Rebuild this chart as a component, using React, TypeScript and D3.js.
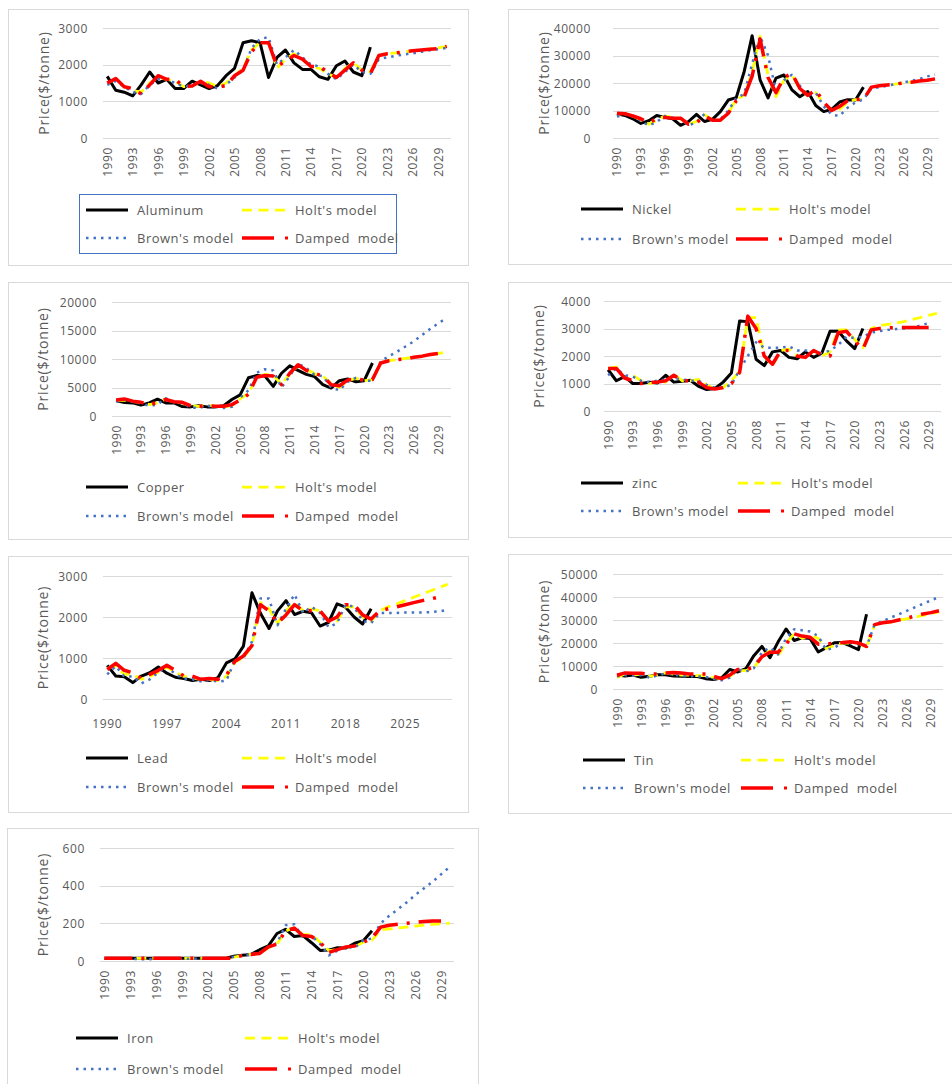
import * as d3 from "d3";

const YEARS = [
  1990, 1991, 1992, 1993, 1994, 1995, 1996, 1997, 1998, 1999,
  2000, 2001, 2002, 2003, 2004, 2005, 2006, 2007, 2008, 2009,
  2010, 2011, 2012, 2013, 2014, 2015, 2016, 2017, 2018, 2019,
  2020, 2021, 2022, 2023, 2024, 2025, 2026, 2027, 2028, 2029, 2030,
];
const X_TICKS_3 = [1990, 1993, 1996, 1999, 2002, 2005, 2008, 2011, 2014, 2017, 2020, 2023, 2026, 2029];
const X_TICKS_7 = [1990, 1997, 2004, 2011, 2018, 2025];

type V = number | null;

// Aluminum
const AL_ACTUAL = [1680, 1300, 1250, 1150, 1450, 1800, 1500, 1600, 1350, 1350, 1550, 1450, 1350, 1430, 1700, 1900, 2600, 2650, 2600, 1650, 2200, 2400, 2050, 1870, 1870, 1670, 1600, 1970, 2100, 1800, 1700, 2480];
const AL_HOLT = [1500, 1600, 1400, 1300, 1250, 1500, 1650, 1600, 1550, 1400, 1420, 1550, 1500, 1400, 1500, 1700, 1900, 2400, 2600, 2600, 1900, 2150, 2300, 2150, 1950, 1900, 1750, 1650, 1900, 2050, 1850, 1800, 2250, 2300, 2320, 2350, 2380, 2400, 2430, 2460, 2500];
const AL_BROWN = [1450, 1550, 1400, 1250, 1200, 1450, 1600, 1600, 1500, 1400, 1450, 1500, 1450, 1350, 1450, 1650, 1850, 2450, 2700, 2750, 2000, 2200, 2400, 2200, 2000, 1950, 1750, 1600, 1800, 2000, 1800, 1750, 2150, 2200, 2240, 2280, 2310, 2350, 2390, 2420, 2460];
const AL_DAMPED = [1500, 1620, 1400, 1350, 1200, 1450, 1700, 1600, 1600, 1400, 1420, 1550, 1400, 1400, 1420, 1700, 1850, 2350, 2600, 2600, 1950, 2100, 2250, 2150, 1950, 1950, 1800, 1650, 1850, 2050, 1850, 1750, 2250, 2300, 2320, 2350, 2380, 2400, 2420, 2440, 2500];
const AL_Y_TICKS = [0, 1000, 2000, 3000];

// Nickel
const NI_ACTUAL = [8800, 8200, 7000, 5300, 6300, 8200, 7500, 7000, 4600, 6000, 8600, 6000, 6800, 9600, 13800, 14700, 24200, 37200, 21100, 14600, 21800, 22900, 17500, 15000, 16900, 11800, 9600, 10400, 13100, 13900, 13800, 18500];
const NI_HOLT = [8500, 9000, 8000, 6500, 5000, 6500, 8000, 7500, 7000, 5000, 6000, 8500, 6500, 6500, 9000, 14000, 15500, 24000, 37000, 23000, 15000, 21000, 23000, 18000, 15500, 16500, 12500, 10000, 10500, 13000, 14000, 14000, 18500, 19000, 19300, 19600, 20000, 20300, 20700, 21000, 21300];
const NI_BROWN = [7800, 8500, 7800, 6200, 4500, 5800, 8000, 7400, 7000, 4500, 5800, 8700, 6200, 6800, 10000, 14500, 16000, 27000, 37000, 30000, 17000, 21000, 23000, 19000, 15500, 16500, 11500, 8500, 8000, 11000, 13000, 14000, 18000, 18500, 19000, 19600, 20200, 20800, 21400, 22400, 23000];
const NI_DAMPED = [9000, 8800, 8000, 7000, 5500, 7000, 7500, 7200, 7200, 5000, 5500, 8000, 6500, 6500, 9000, 13500, 15000, 22500, 36000, 22000, 16500, 22000, 23500, 18000, 15500, 17500, 13000, 10000, 11500, 13500, 14000, 14000, 18500, 19000, 19300, 19600, 20000, 20300, 20700, 21000, 21500];
const NI_Y_TICKS = [0, 10000, 20000, 30000, 40000];

// Copper
const CU_ACTUAL = [2700, 2350, 2300, 1900, 2300, 2950, 2300, 2300, 1650, 1600, 1800, 1600, 1600, 1800, 2900, 3700, 6700, 7100, 7000, 5200, 7500, 8800, 8000, 7300, 6900, 5500, 4900, 6200, 6500, 6000, 6200, 9300];
const CU_HOLT: V[] = [2700, 2800, 2500, 2400, 2000, 2300, 3000, 2400, 2300, 1800, 1700, 1900, 1700, 1600, 1800, 3000, 4000, 6800, 7300, 7200, 5500, 7400, 8800, 8200, 7400, 7000, 5700, 5000, 6200, 6600, 6200, 6400, 9400, 9700, 9900, 10100, 10300, 10500, 10700, 11000, 11200];
const CU_BROWN: V[] = [2500, 2900, 2500, 2200, 1800, 2000, 3100, 2400, 2300, 1500, 1400, 1800, 1600, 1400, 1600, 3200, 4500, 7600, 8200, 8000, 5000, 7000, 9200, 8400, 7200, 7000, 5000, 4500, 6000, 6700, 6200, 6200, 9600, 10500, 11300, 12200, 13100, 14200, 15300, 16300, 17200];
const CU_DAMPED: V[] = [2800, 3000, 2600, 2400, 2000, 2400, 2900, 2500, 2400, 1800, 1700, 1800, 1700, 1700, 2000, 2800, 3800, 6800, 7100, 7000, 5500, 7500, 9000, 8000, 7500, 7000, 5500, 5300, 6300, 6500, 6300, 6400, 9300, 9700, 9900, 10000, 10300, 10500, 10800, 11000, 11200];
const CU_Y_TICKS = [0, 5000, 10000, 15000, 20000];

// Zinc
const ZN_ACTUAL = [1500, 1100, 1250, 1000, 1000, 1050, 1020, 1300, 1050, 1080, 1120, 900, 780, 820, 1050, 1380, 3270, 3250, 1880, 1650, 2150, 2200, 1950, 1900, 2150, 1950, 2100, 2900, 2900, 2550, 2270, 3000];
const ZN_HOLT: V[] = [1550, 1600, 1200, 1300, 1100, 1000, 1050, 1050, 1350, 1100, 1100, 1150, 950, 800, 850, 1100, 1450, 3400, 3400, 2000, 1650, 2200, 2250, 2000, 1950, 2200, 2000, 2150, 2950, 2950, 2600, 2300, 3000, 3100, 3150, 3200, 3250, 3330, 3400, 3480, 3550];
const ZN_BROWN: V[] = [1300, 1550, 1300, 1250, 1100, 1050, 1100, 1150, 1200, 1150, 1100, 1100, 950, 850, 850, 950, 1500, 2000, 2500, 2300, 2300, 2300, 2350, 2200, 2200, 2150, 2100, 2200, 2400, 2700, 2650, 2700, 2850, 2900, 2950, 2980, 3000, 3050, 3100, 3200, null];
const ZN_DAMPED: V[] = [1550, 1550, 1200, 1100, 1000, 1050, 1050, 1100, 1300, 1100, 1100, 1050, 850, 800, 850, 1000, 1400, 3450, 3000, 2000, 1700, 2200, 2200, 2000, 1950, 2200, 2050, 2000, 2850, 2900, 2550, 2250, 2950, 3000, 3020, 3030, 3040, 3040, 3040, 3040, null];
const ZN_Y_TICKS = [0, 1000, 2000, 3000, 4000];

// Lead
const PB_ACTUAL = [820, 560, 540, 400, 560, 640, 780, 630, 530, 500, 450, 480, 450, 520, 880, 980, 1290, 2590, 2090, 1720, 2150, 2400, 2060, 2140, 2100, 1780, 1870, 2320, 2240, 2000, 1830, 2200];
const PB_HOLT: V[] = [750, 800, 600, 600, 480, 550, 650, 780, 650, 550, 520, 470, 480, 450, 550, 900, 1000, 1300, 2350, 2200, 1850, 2150, 2350, 2150, 2200, 2150, 1900, 1900, 2250, 2250, 2000, 1900, 2150, 2250, 2320, 2400, 2480, 2560, 2640, 2720, 2800];
const PB_BROWN: V[] = [600, 800, 550, 550, 380, 480, 650, 800, 600, 500, 480, 430, 470, 420, 450, 950, 1000, 1400, 2450, 2450, 1800, 2200, 2550, 2100, 2250, 2100, 1750, 1850, 2300, 2250, 1900, 1850, 2100, 2100, 2100, 2110, 2110, 2110, 2120, 2140, 2170];
const PB_DAMPED: V[] = [720, 870, 700, 640, 500, 600, 700, 820, 700, 560, 560, 480, 500, 480, 580, 920, 1050, 1300, 2300, 2150, 1850, 2050, 2300, 2150, 2150, 2150, 1900, 2000, 2300, 2300, 2050, 1950, 2150, 2200, 2250, 2300, 2350, 2400, 2440, 2490, null];
const PB_Y_TICKS = [0, 1000, 2000, 3000];

// Tin
const SN_ACTUAL = [6100, 5600, 6100, 5100, 5500, 6200, 6200, 5600, 5500, 5400, 5400, 4500, 4100, 4900, 8500, 7400, 8800, 14500, 18500, 13600, 20400, 26100, 21100, 22300, 21900, 16100, 18000, 20100, 20200, 18700, 17100, 32500];
const SN_HOLT: V[] = [5000, 6500, 6000, 6500, 5500, 6000, 7000, 6500, 6000, 6000, 5800, 5800, 5000, 4300, 5500, 8000, 8000, 9000, 14500, 16500, 14500, 20000, 24000, 22000, 23500, 22000, 17500, 19000, 20000, 20000, 20000, 18000, 28000, 28700, 29000, 30000, 30500, 31200, 32000, 32800, 33500];
const SN_BROWN: V[] = [5500, 6000, 5800, 6000, 5000, 5800, 6800, 6300, 5700, 5500, 5500, 5300, 4300, 3800, 5000, 8500, 7600, 9000, 16000, 18000, 15000, 22000, 26000, 25500, 25000, 23000, 17000, 18000, 20000, 20000, 19500, 18500, 28000, 29500, 31000, 32500, 34000, 35500, 37000, 38500, 40000];
const SN_DAMPED: V[] = [6000, 7000, 6800, 6800, 6500, 6500, 7000, 7200, 7000, 6500, 6500, 6500, 5500, 4500, 6000, 8500, 8500, 9500, 14000, 16000, 16000, 19500, 24000, 23000, 22500, 19500, 19500, 20000, 20200, 20500, 20000, 18500, 28000, 28800, 29200, 30000, 30800, 31700, 32600, 33200, 34000];
const SN_Y_TICKS = [0, 10000, 20000, 30000, 40000, 50000];

// Iron
const FE_ACTUAL = [14, 14, 14, 14, 14, 14, 14, 14, 14, 14, 14, 14, 14, 14, 14, 25, 30, 35, 60, 80, 146, 168, 130, 135, 97, 56, 58, 71, 69, 94, 108, 160];
const FE_HOLT: V[] = [14, 14, 14, 14, 14, 14, 14, 14, 14, 14, 14, 14, 14, 14, 14, 20, 30, 35, 40, 70, 90, 160, 175, 140, 140, 100, 55, 60, 75, 75, 100, 110, 165, 170, 175, 180, 185, 190, 195, 198, 200];
const FE_BROWN: V[] = [12, 12, 12, 12, 10, 8, 12, 12, 12, 12, 12, 12, 12, 12, 12, 22, 30, 35, 45, 75, 95, 190, 195, 125, 135, 90, 30, 55, 75, 70, 110, 120, 200, 240, 275, 310, 350, 385, 420, 460, 500];
const FE_DAMPED: V[] = [14, 14, 14, 14, 14, 14, 14, 14, 14, 14, 14, 14, 14, 14, 14, 16, 30, 35, 40, 75, 90, 160, 175, 135, 130, 100, 45, 60, 75, 80, 100, 120, 180, 190, 195, 200, 205, 210, 212, 213, null];
const FE_Y_TICKS = [0, 200, 400, 600];

const GRID = "#d9d9d9";
const TEXT = "#595959";
const FONT = "'Open Sans', 'DejaVu Sans', sans-serif";

const PANELS = [
  { name: "Aluminum", actual: AL_ACTUAL, holt: AL_HOLT, brown: AL_BROWN, damped: AL_DAMPED, yTicks: AL_Y_TICKS, xTicks: X_TICKS_3, rotate: true,
    box: [8, 9, 468, 265], plot: [103, 28, 451, 138], gap: 15, titleX: 43, lx: 86, lx2: 242, ly: [210, 238], legendBox: true },
  { name: "Nickel", actual: NI_ACTUAL, holt: NI_HOLT, brown: NI_BROWN, damped: NI_DAMPED, yTicks: NI_Y_TICKS, xTicks: X_TICKS_3, rotate: true,
    box: [508, 9, 964, 264], plot: [613, 28, 939, 138], gap: 22, titleX: 543, lx: 581, lx2: 736, ly: [209, 239] },
  { name: "Copper", actual: CU_ACTUAL, holt: CU_HOLT, brown: CU_BROWN, damped: CU_DAMPED, yTicks: CU_Y_TICKS, xTicks: X_TICKS_3, rotate: true,
    box: [8, 282, 468, 539], plot: [112, 302, 451, 416], gap: 15, titleX: 42, lx: 86, lx2: 242, ly: [487, 516] },
  { name: "zinc", actual: ZN_ACTUAL, holt: ZN_HOLT, brown: ZN_BROWN, damped: ZN_DAMPED, yTicks: ZN_Y_TICKS, xTicks: X_TICKS_3, rotate: true,
    box: [508, 282, 964, 537], plot: [604, 301, 941, 411], gap: 13, titleX: 538, lx: 581, lx2: 738, ly: [483, 511] },
  { name: "Lead", actual: PB_ACTUAL, holt: PB_HOLT, brown: PB_BROWN, damped: PB_DAMPED, yTicks: PB_Y_TICKS, xTicks: X_TICKS_7, rotate: false,
    box: [8, 556, 468, 812], plot: [103, 576, 452, 699], gap: 15, titleX: 42, lx: 86, lx2: 242, ly: [758, 787] },
  { name: "Tin", actual: SN_ACTUAL, holt: SN_HOLT, brown: SN_BROWN, damped: SN_DAMPED, yTicks: SN_Y_TICKS, xTicks: X_TICKS_3, rotate: true,
    box: [508, 554, 964, 813], plot: [613, 574, 943, 689], gap: 15, titleX: 543, lx: 583, lx2: 741, ly: [760, 788] },
  { name: "Iron", actual: FE_ACTUAL, holt: FE_HOLT, brown: FE_BROWN, damped: FE_DAMPED, yTicks: FE_Y_TICKS, xTicks: X_TICKS_3, rotate: true,
    box: [7, 828, 478, 1100], plot: [100, 848, 454, 961], gap: 15, titleX: 42, lx: 76, lx2: 245, ly: [1038, 1069] },
];

const STYLES = {
  actual: { stroke: "#000000", width: 3, dash: "none" },
  holt: { stroke: "#ffff00", width: 2.75, dash: "10,6" },
  brown: { stroke: "#4472c4", width: 2.5, dash: "2.5,5" },
  damped: { stroke: "#ff0000", width: 3.5, dash: "28,9,3,9" },
};

function Panel({ p }: { p: (typeof PANELS)[number] }) {
  const [x0, y0, x1, y1] = p.plot;
  const x = d3.scaleBand<number>().domain(YEARS).range([x0, x1]);
  const cx = (yr: number) => (x(yr) ?? 0) + x.bandwidth() / 2;
  const y = d3.scaleLinear().domain([0, p.yTicks[p.yTicks.length - 1]]).range([y1, y0]);
  const line = d3
    .line<V>()
    .defined((d) => d != null)
    .x((_, i) => cx(YEARS[i]))
    .y((d) => y(d as number));

  const series: [keyof typeof STYLES, V[]][] = [
    ["actual", p.actual],
    ["holt", p.holt],
    ["brown", p.brown],
    ["damped", p.damped],
  ];
  const [bx0, by0, bx1, by1] = p.box;
  const tickFont = { fontFamily: FONT, fontSize: 12, fill: TEXT, letterSpacing: 0.6 } as const;
  const legFont = { fontFamily: FONT, fontSize: 13, fill: TEXT, letterSpacing: 0.5 } as const;
  const [r1, r2] = p.ly;

  return (
    <g>
      <rect x={bx0 + 0.5} y={by0 + 0.5} width={bx1 - bx0} height={by1 - by0} fill="#fff" stroke={GRID} />
      {p.yTicks.map((t) => (
        <g key={t}>
          <line x1={x0} x2={x1} y1={Math.round(y(t)) + 0.5} y2={Math.round(y(t)) + 0.5} stroke={GRID} strokeWidth={1} />
          <text x={x0 - p.gap} y={y(t)} textAnchor="end" dominantBaseline="central" {...tickFont}>
            {t}
          </text>
        </g>
      ))}
      {p.xTicks.map((t) =>
        p.rotate ? (
          <text key={t} transform={`translate(${cx(t)},${y1 + 9}) rotate(-90)`} textAnchor="end" dominantBaseline="central" {...tickFont}>
            {t}
          </text>
        ) : (
          <text key={t} x={cx(t)} y={y1 + 24} textAnchor="middle" dominantBaseline="central" {...tickFont}>
            {t}
          </text>
        )
      )}
      <text transform={`translate(${p.titleX},${(y0 + y1) / 2}) rotate(-90)`} textAnchor="middle" dominantBaseline="central"
        fontFamily={FONT} fontSize={14} fill={TEXT} letterSpacing={0.8}>
        Price($/tonne)
      </text>
      {series.map(([k, data]) => (
        <path key={k} d={line(data) ?? ""} fill="none" stroke={STYLES[k].stroke} strokeWidth={STYLES[k].width}
          strokeDasharray={STYLES[k].dash} strokeLinejoin="round" />
      ))}
      {p.legendBox && <rect x={79.5} y={194.5} width={317} height={59} fill="none" stroke="#4472c4" strokeWidth={1} />}
      <line x1={p.lx} x2={p.lx + 42} y1={r1} y2={r1} stroke="#000" strokeWidth={3} />
      <text x={p.lx + 51} y={r1} dominantBaseline="central" {...legFont}>{p.name}</text>
      <line x1={p.lx2} x2={p.lx2 + 44} y1={r1} y2={r1} stroke="#ffff00" strokeWidth={2.75} strokeDasharray="10,6.5" />
      <text x={p.lx2 + 53} y={r1} dominantBaseline="central" {...legFont}>Holt's model</text>
      <line x1={p.lx} x2={p.lx + 42} y1={r2} y2={r2} stroke="#4472c4" strokeWidth={2.5} strokeDasharray="2.5,5" />
      <text x={p.lx + 51} y={r2} dominantBaseline="central" {...legFont}>Brown's model</text>
      <line x1={p.lx2} x2={p.lx2 + 32} y1={r2} y2={r2} stroke="#ff0000" strokeWidth={3.5} />
      <rect x={p.lx2 + 43} y={r2 - 1.5} width={3} height={3} fill="#ff0000" />
      <text x={p.lx2 + 53} y={r2} dominantBaseline="central" {...legFont} style={{ whiteSpace: "pre" }}>Damped  model</text>
    </g>
  );
}

export default function App() {
  return (
    <svg width={952} height={1084} style={{ position: "absolute", left: 0, top: 0, background: "#fff" }}>
      <rect width={952} height={1084} fill="#fff" />
      {PANELS.map((p) => (
        <Panel key={p.name} p={p} />
      ))}
    </svg>
  );
}
